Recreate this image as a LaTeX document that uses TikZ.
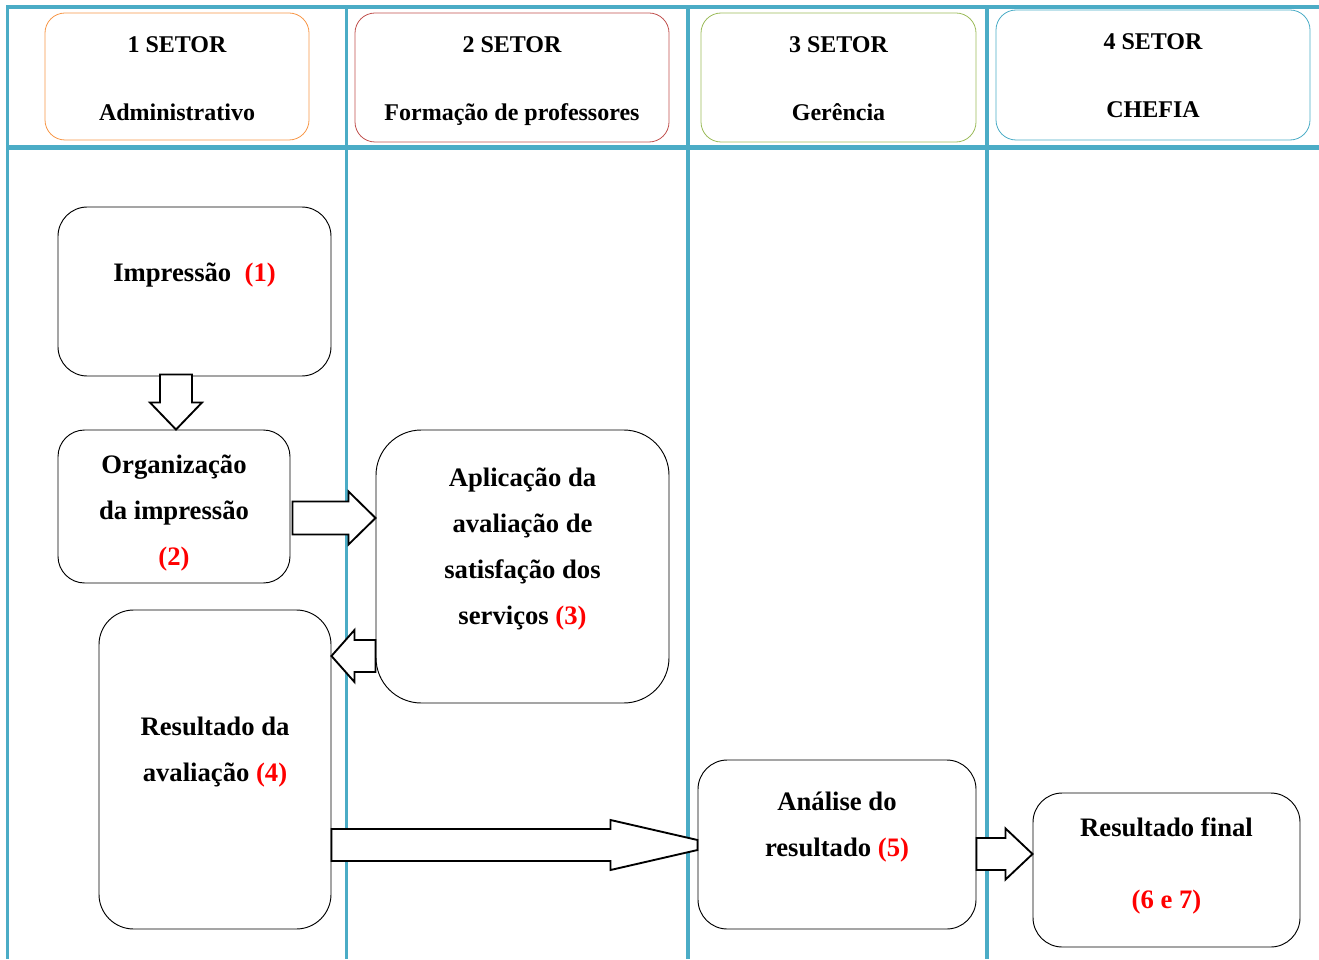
\documentclass[tikz,border=0pt]{standalone}
\usepackage{fontspec}
\setmainfont{Liberation Serif}
\usetikzlibrary{calc}
\definecolor{lane}{HTML}{4BACC6}
\definecolor{hOrange}{HTML}{F79646}
\definecolor{hRed}{HTML}{C0504D}
\definecolor{hGreen}{HTML}{9BBB59}
\definecolor{hBlue}{HTML}{4BACC6}
\newcommand{\num}[1]{\textcolor{red}{#1}}
% block arrow: start, end, shaft half, head half, head length (px)
\newcommand{\hblock}[5]{
  \draw[blockarrow] let \p1=(#1), \p2=(#2) in
    (\x1,{\y1-#3*0.75pt}) -- ({\x2-(#5)*0.75pt},{\y1-#3*0.75pt})
    -- ({\x2-(#5)*0.75pt},{\y1-#4*0.75pt}) -- (\x2,\y1)
    -- ({\x2-(#5)*0.75pt},{\y1+#4*0.75pt}) -- ({\x2-(#5)*0.75pt},{\y1+#3*0.75pt})
    -- (\x1,{\y1+#3*0.75pt}) -- cycle;
}

\begin{document}
\begin{tikzpicture}[x=0.75pt, y=-0.75pt]
  \tikzset{headbox/.style={draw, rounded corners=15pt, line width=0.6pt, minimum width=#1*0.75pt}}
  \tikzset{headtext/.style={font=\fontsize{18}{22}\selectfont\bfseries, align=center}}
  \tikzset{procbox/.style={draw, line width=0.7pt, inner sep=0pt}}
  \tikzset{proctext/.style={font=\fontsize{20}{34.5}\selectfont\bfseries, align=center}}
  \tikzset{blockarrow/.style={draw, line width=1.4pt, fill=white, line join=miter}}
  \useasboundingbox (0,0) rectangle (1319,959);

  % lanes
  \draw[lane, line width=2.4pt] (1319,7) -- (7.5,7) -- (7.5,959);
  \draw[lane, line width=3.6pt] (7.5,147.5) -- (1319,147.5);
  \foreach \x in {346.5, 688, 987}
    \draw[lane, line width=2.4pt] (\x,7) -- (\x,959);

  % headers
  \node[name = h1, headbox=264, hOrange, minimum height=127*0.75pt] at (177,76.5) {};
  \node[name = h2, headbox=314, hRed, minimum height=129*0.75pt] at (512,77.5) {};
  \node[name = h3, headbox=275, hGreen, minimum height=129*0.75pt] at (838.5,77.5) {};
  \node[name = h4, headbox=314, hBlue, minimum height=130*0.75pt] at (1153,75) {};

  \node[name = h1t, headtext] at (177,79) {1 SETOR\\[29pt]Administrativo};
  \node[name = h2t, headtext] at (512,81) {2 SETOR\\[29pt]Formação de professores};
  \node[name = h3t, headtext] at (838.5,79) {3 SETOR\\[29pt]Gerência};
  \node[name = h4t, headtext] at (1153,76) {4 SETOR\\[29pt]CHEFIA};

  % steps
  \node[name = imp, procbox, rounded corners=22pt, minimum width=273*0.75pt, minimum height=169*0.75pt] at (194.5,291.5) {};
  \node[name = org, procbox, rounded corners=20pt, minimum width=232*0.75pt, minimum height=153*0.75pt] at (174,506.5) {};
  \node[name = apl, procbox, rounded corners=34pt, minimum width=293*0.75pt, minimum height=273*0.75pt] at (522.5,566.5) {};
  \node[name = res, procbox, rounded corners=26pt, minimum width=232*0.75pt, minimum height=319*0.75pt] at (215,769.5) {};
  \node[name = ana, procbox, rounded corners=22pt, minimum width=278*0.75pt, minimum height=169*0.75pt] at (837,844.5) {};
  \node[name = fin, procbox, rounded corners=22pt, minimum width=267*0.75pt, minimum height=154*0.75pt] at (1166.5,870) {};

  \node[name = impt, proctext] at (194.5,275) {Impressão\ \ \num{(1)}};
  \node[name = orgt, proctext] at (174,513) {Organização\\da impressão\\\num{(2)}};
  \node[name = aplt, proctext] at (522.5,549) {Aplicação da\\avaliação de\\satisfação dos\\serviços \num{(3)}};
  \node[name = rest, proctext] at (215,752) {Resultado da\\avaliação \num{(4)}};
  \node[name = anat, proctext] at (837,827.5) {Análise do\\resultado \num{(5)}};
  \node[name = fint, proctext] at (1166.5,866) {Resultado final\\[19pt]\num{(6 e 7)}};

  % arrows
  \draw[blockarrow] let \p1=($(org.north)+(2,0)$), \p2=($(imp.south)+(0,-2)$) in
    ({\x1-16*0.75pt},\y2) -- ({\x1+16*0.75pt},\y2) -- ({\x1+16*0.75pt},{\y1+27*0.75pt})
    -- ({\x1+26*0.75pt},{\y1+27*0.75pt}) -- (\x1,\y1) -- ({\x1-26*0.75pt},{\y1+27*0.75pt})
    -- ({\x1-16*0.75pt},{\y1+27*0.75pt}) -- cycle;
  \hblock{$(org.east |- 0,518)+(2,0)$}{apl.west}{16.5}{26.5}{27}
  \hblock{apl.west |- 0,656}{res.east}{16}{26}{-23}
  \hblock{ana.east |- 0,854}{fin.west}{16}{25.5}{27}
  \draw[blockarrow] let \p1=(res.east |- 0,845), \p2=(ana.west) in
    (\x1,{\y1-16*0.75pt}) -- ({\x2-87*0.75pt},{\y1-16*0.75pt}) -- ({\x2-87*0.75pt},{\y1-25*0.75pt})
    -- (\x2,{\y1-5*0.75pt}) -- (\x2,{\y1+5*0.75pt}) -- ({\x2-87*0.75pt},{\y1+25*0.75pt})
    -- ({\x2-87*0.75pt},{\y1+16*0.75pt}) -- (\x1,{\y1+16*0.75pt}) -- cycle;
\end{tikzpicture}
\end{document}
